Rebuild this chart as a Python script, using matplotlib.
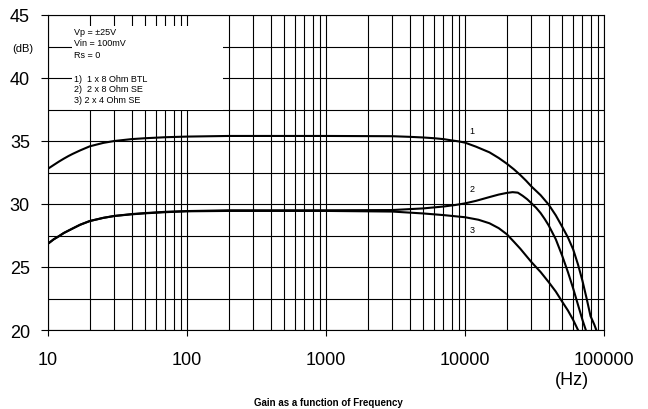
import matplotlib
matplotlib.use("Agg")
import matplotlib.pyplot as plt
from matplotlib.patches import Rectangle
from matplotlib.ticker import FixedLocator, LogLocator, NullFormatter

plt.rcParams['font.family'] = ['Liberation Sans', 'DejaVu Sans']

# Curve 1: 1 x 8 Ohm BTL
freq_1 = [10, 11, 12, 13, 14, 15, 17, 20, 25, 30, 40, 50, 70, 100, 150,
          200, 1000, 3000, 4000, 5000, 6000, 7000, 8000, 9000, 10000, 12000,
          15000, 17500, 20000, 22500, 25000, 27500, 30000, 35000, 40000,
          45000, 50000, 55000, 60000, 65000, 70000, 75000, 80000, 85000,
          88000, 92000]
gain_1 = [32.8, 33.1, 33.37, 33.6, 33.8, 33.97, 34.25, 34.58, 34.85, 35.0,
          35.15, 35.22, 35.3, 35.35, 35.38, 35.4, 35.4, 35.38, 35.33, 35.28,
          35.22, 35.15, 35.05, 34.97, 34.87, 34.55, 34.1, 33.65, 33.2, 32.75,
          32.3, 31.85, 31.4, 30.7, 29.95, 29.1, 28.2, 27.35, 26.4, 25.2, 23.9,
          22.5, 21.1, 20.45, 20.0, 18.8]

# Curve 2: 2 x 8 Ohm SE
freq_2 = [10, 11, 12, 13, 15, 17, 20, 25, 30, 40, 50, 70, 100, 200, 1000,
          3000, 5000, 7000, 8500, 10000, 12000, 15000, 17500, 20000, 22000,
          24000, 26000, 28000, 30000, 32500, 35000, 37500, 40000, 45000,
          50000, 55000, 60000, 65000, 70000, 75000, 78000]
gain_2 = [26.85, 27.2, 27.45, 27.7, 28.05, 28.35, 28.65, 28.9, 29.05, 29.2,
          29.28, 29.38, 29.44, 29.5, 29.5, 29.52, 29.65, 29.8, 29.92, 30.05,
          30.25, 30.55, 30.75, 30.88, 30.94, 30.9, 30.65, 30.38, 30.07, 29.7,
          29.28, 28.8, 28.3, 27.2, 25.9, 24.6, 23.3, 22.0, 20.8, 19.8, 19.0]

# Curve 3: 2 x 4 Ohm SE
freq_3 = [10, 11, 12, 13, 15, 17, 20, 25, 30, 40, 50, 70, 100, 200, 1000,
          3000, 5000, 7000, 10000, 12500, 15000, 17500, 20000, 22500, 25000,
          27500, 30000, 35000, 40000, 45000, 50000, 55000, 60000, 65000,
          70000]
gain_3 = [26.85, 27.2, 27.45, 27.7, 28.05, 28.35, 28.65, 28.9, 29.05, 29.18,
          29.26, 29.35, 29.42, 29.45, 29.45, 29.4, 29.25, 29.12, 28.95, 28.75,
          28.47, 28.08, 27.6, 27.0, 26.45, 25.9, 25.4, 24.6, 23.8, 23.05,
          22.25, 21.55, 20.8, 20.0, 19.2]

curve_labels = ["1", "2", "3"]
label_freq = 11200
label_gain = [35.8, 31.2, 28.0]

note_lines = ["Vp = \u00b125V", "Vin = 100mV", "Rs = 0", "",
              "1)  1 x 8 Ohm BTL", "2)  2 x 8 Ohm SE", "3) 2 x 4 Ohm SE"]
note_gain = [43.7, 42.79, 41.9, 40.9, 39.98, 39.14, 38.27]

xticks = [10, 100, 1000, 10000, 100000]
yticks = [20, 25, 30, 35, 40, 45]

fig = plt.figure(figsize=(6.48, 4.10), dpi=100)
ax = fig.add_axes([48 / 648, 1 - 331 / 410, (604 - 48) / 648, (331 - 16) / 410])

ax.set_xscale("log")
ax.set_xlim(10, 100000)
ax.set_ylim(20, 45)

# grid: every 2.5 dB horizontally, 1-2-3..9 vertically
ax.xaxis.set_major_locator(FixedLocator(xticks))
ax.xaxis.set_minor_locator(LogLocator(base=10, subs=range(2, 10)))
ax.xaxis.set_minor_formatter(NullFormatter())
ax.set_xticklabels([str(t) for t in xticks])
ax.set_yticks(yticks)
ax.yaxis.set_minor_locator(FixedLocator([22.5, 27.5, 32.5, 37.5, 42.5]))
ax.grid(which="both", color="black", linewidth=0.8)
ax.tick_params(which="major", direction="out", length=4, width=0.8,
               labelsize=13, colors="black")
ax.tick_params(axis="x", which="major", pad=11)
ax.tick_params(axis="y", which="major", length=5, pad=8)
ax.tick_params(which="minor", length=0)
for s in ax.spines.values():
    s.set_linewidth(0.8)

for f, g in [(freq_1, gain_1), (freq_2, gain_2), (freq_3, gain_3)]:
    ax.plot(f, g, color="black", linewidth=1.5, zorder=3)

for lab, g in zip(curve_labels, label_gain):
    ax.text(label_freq, g, lab, fontsize=6.5, ha="center", va="center", zorder=4)

# white box for the notes
ax.add_patch(Rectangle((14.8, 37.5), 183 - 14.8, 44.1 - 37.5,
                       facecolor="white", edgecolor="none", zorder=2))
for line, g in zip(note_lines, note_gain):
    ax.text(15.3, g, line, fontsize=6.5, ha="left", va="center", zorder=4)

fig.text(22.5 / 648, 1 - 49 / 410, "(dB)", fontsize=8, ha="center", va="center")
fig.text(572 / 648, 1 - 381 / 410, "(Hz)", fontsize=13, ha="center", va="center")
fig.text(328 / 648, 1 - 403 / 410, "Gain as a function of Frequency",
         fontsize=7, fontweight="bold", ha="center", va="center")

fig.savefig("out.png", dpi=100)
